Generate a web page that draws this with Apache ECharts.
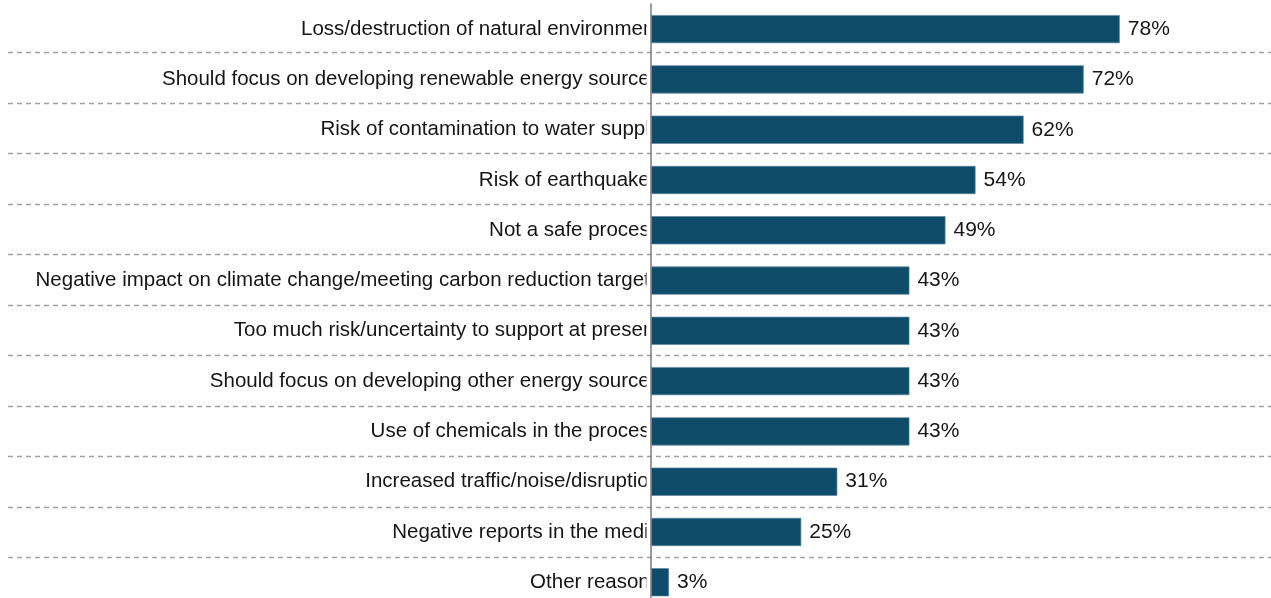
<!DOCTYPE html>
<html>
<head>
<meta charset="utf-8">
<script src="https://cdn.jsdelivr.net/npm/echarts@6/dist/echarts.min.js"></script>
<style>
html,body{margin:0;padding:0;background:#fff;}
#chart{width:1271px;height:598px;}
</style>
</head>
<body>
<div id="chart"></div>
<script>
const categories = [
  "Loss/destruction of natural environment",
  "Should focus on developing renewable energy sources",
  "Risk of contamination to water supply",
  "Risk of earthquakes",
  "Not a safe process",
  "Negative impact on climate change/meeting carbon reduction targets",
  "Too much risk/uncertainty to support at present",
  "Should focus on developing other energy sources",
  "Use of chemicals in the process",
  "Increased traffic/noise/disruption",
  "Negative reports in the media",
  "Other reasons"
];
const values = [78, 72, 62, 54, 49, 43, 43, 43, 43, 31, 25, 3];

const FONT = "'Liberation Sans', Arial, sans-serif";
const chart = echarts.init(document.getElementById('chart'), null, {renderer: 'canvas'});

const option = {
  animation: false,
  backgroundColor: '#ffffff',
  grid: [
    {left: 651, right: 19, top: 4, height: 603.4, containLabel: false, outerBoundsMode: 'none'},
    {left: 8, right: 0, top: 1.8, height: 606, containLabel: false, outerBoundsMode: 'none'}
  ],
  xAxis: [
    {gridIndex: 0, type: 'value', min: 0, max: 100, show: false},
    {gridIndex: 1, type: 'value', min: 0, max: 100, show: false}
  ],
  yAxis: [
    {
      gridIndex: 0, type: 'category', data: categories, inverse: true, z: 0,
      position: 'left',
      axisLine: {show: false}, axisTick: {show: false}, splitLine: {show: false},
      axisLabel: {fontSize: 20.5, color: '#151515', fontFamily: FONT, margin: -9}
    },
    {
      gridIndex: 0, type: 'category', data: categories, inverse: true, z: 3,
      position: 'left', offset: 0,
      axisLine: {show: true, lineStyle: {color: '#7a7a7a', width: 1.5}},
      axisTick: {show: false}, axisLabel: {show: false}, splitLine: {show: false}
    },
    {
      gridIndex: 1, type: 'category', data: categories, inverse: true, z: 3,
      axisLine: {show: false}, axisTick: {show: false}, axisLabel: {show: false},
      splitLine: {show: true, showMinLine: false, showMaxLine: false,
        lineStyle: {color: '#a0a0a0', width: 1.3, type: [5, 4]}}
    }
  ],
  series: [
    {
      type: 'bar', xAxisIndex: 0, yAxisIndex: 0, z: 2,
      data: values, barWidth: '56%',
      itemStyle: {color: '#0f4c69', borderColor: '#5d87a1', borderWidth: 0.7},
      label: {show: true, position: 'right', distance: 8, formatter: '{c}%',
        fontSize: 21, color: '#151515', fontFamily: FONT}
    }
  ]
};
chart.setOption(option);

const x0 = chart.convertToPixel({xAxisIndex: 0}, 0);
chart.setOption({
  graphic: [{
    type: 'rect', z: 1, silent: true,
    shape: {x: x0 - 4.5, y: 0, width: 60, height: 598},
    style: {fill: '#ffffff'}
  }]
});
</script>
</body>
</html>
